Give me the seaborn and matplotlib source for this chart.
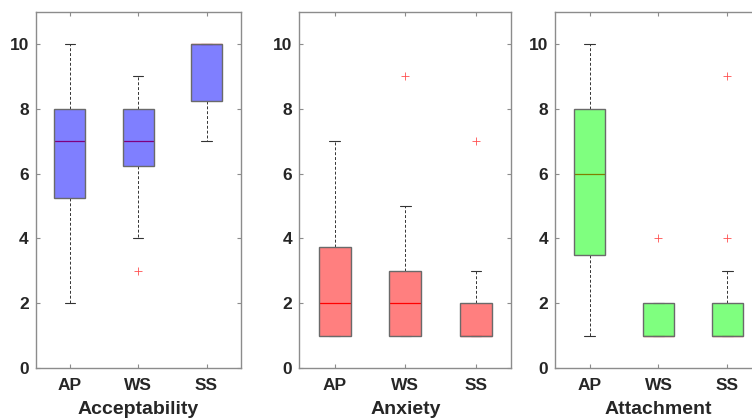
import matplotlib
matplotlib.use("Agg")
import matplotlib.pyplot as plt
import seaborn as sns

sns.set_theme(style="white")
plt.rcParams['font.family'] = ['Liberation Sans', 'DejaVu Sans']

categories = ["AP", "WS", "SS"]

acc_lo = [2, 4, 7]
acc_q1 = [5.25, 6.25, 8.25]
acc_med = [7, 7, 10]
acc_q3 = [8, 8, 10]
acc_hi = [10, 9, 10]
acc_fliers = [[], [3], []]

anx_lo = [1, 1, 1]
anx_q1 = [1, 1, 1]
anx_med = [2, 2, 1]
anx_q3 = [3.75, 3, 2]
anx_hi = [7, 5, 3]
anx_fliers = [[], [9], [7]]

att_lo = [1, 1, 1]
att_q1 = [3.5, 1, 1]
att_med = [6, 1, 1]
att_q3 = [8, 2, 2]
att_hi = [10, 2, 3]
att_fliers = [[], [4], [4, 9]]

panels = [
    ("Acceptability", acc_lo, acc_q1, acc_med, acc_q3, acc_hi, acc_fliers, (0, 0, 1, 0.5)),
    ("Anxiety", anx_lo, anx_q1, anx_med, anx_q3, anx_hi, anx_fliers, (1, 0, 0, 0.5)),
    ("Attachment", att_lo, att_q1, att_med, att_q3, att_hi, att_fliers, (0, 1, 0, 0.5)),
]

fig = plt.figure(figsize=(7.52, 4.19), dpi=100)
W, H = 752, 419
rects = [(35.7, 205), (299.3, 212), (555, 207)]
top_px, bot_px = 11.7, 368

edge = "#6a6a6a"
spine_c = "#8c8c8c"

for (name, lo, q1, med, q3, hi, fl, fc), (lx, wx) in zip(panels, rects):
    ax = fig.add_axes([lx / W, (H - bot_px) / H, wx / W, (bot_px - top_px) / H])
    stats = []
    for i, c in enumerate(categories):
        stats.append(dict(label=c, whislo=lo[i], q1=q1[i], med=med[i], q3=q3[i],
                          whishi=hi[i], fliers=fl[i]))
    ax.bxp(stats, positions=[1, 2, 3], widths=0.45, capwidths=0.15,
           patch_artist=True, showfliers=True,
           boxprops=dict(facecolor=fc, edgecolor=edge, linewidth=1.0, zorder=3),
           medianprops=dict(color="#FF0000", linewidth=0.9, zorder=2),
           whiskerprops=dict(color="#333333", linestyle=(0, (3, 2)), linewidth=0.7, zorder=2),
           capprops=dict(color="#333333", linewidth=0.8, zorder=2),
           flierprops=dict(marker="+", markeredgecolor="#FF5050", markersize=6,
                           markeredgewidth=0.6, linestyle="none"))
    ax.set_xlim(0.5, 3.5)
    ax.set_ylim(0, 11)
    ax.set_yticks([0, 2, 4, 6, 8, 10])
    ax.set_xticks([1, 2, 3])
    ax.set_xticklabels(categories)
    for s in ax.spines.values():
        s.set_color(spine_c)
        s.set_linewidth(1.0)
        s.set_visible(True)
    ax.tick_params(axis="both", which="both", direction="in", length=3, width=0.8,
                   color=spine_c, top=True, right=True, bottom=True, left=True,
                   labelsize=12.5, labelcolor="#262626")
    ax.tick_params(axis="x", pad=7)
    ax.tick_params(axis="y", pad=5)
    for t in ax.get_xticklabels() + ax.get_yticklabels():
        t.set_fontweight("bold")
    ax.set_xlabel(name, fontsize=14, fontweight="bold", color="#262626", labelpad=6)
    ax.grid(False)
    ax.set_facecolor("white")

fig.savefig("out.png", dpi=100)
